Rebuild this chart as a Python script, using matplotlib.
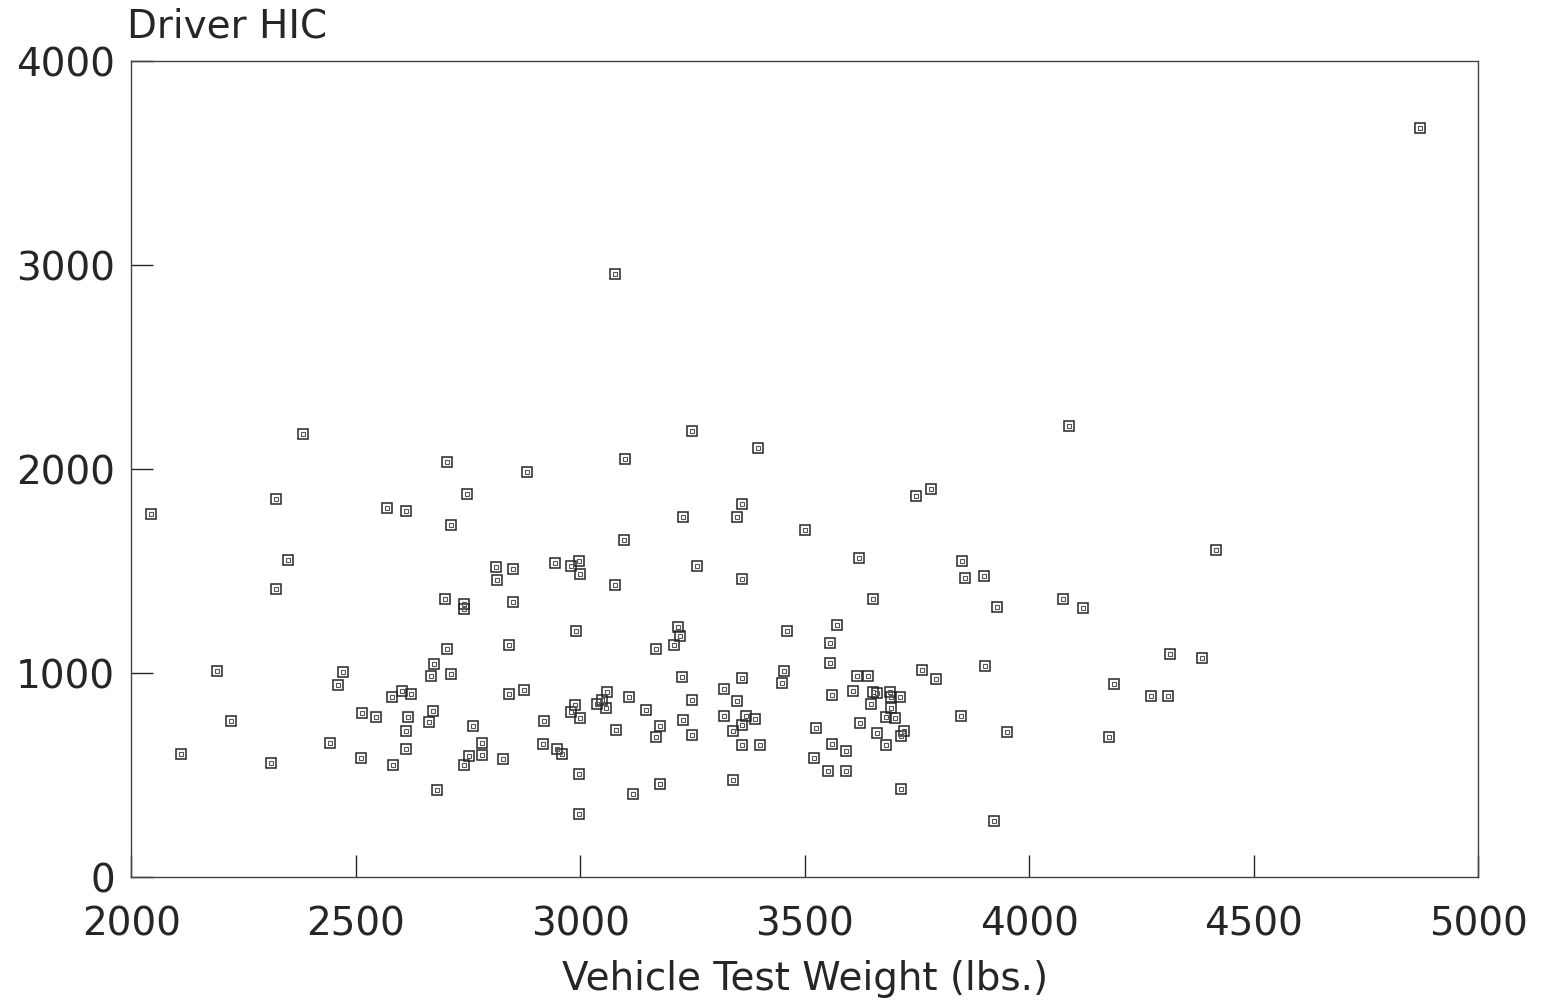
import matplotlib
matplotlib.use("Agg")
import matplotlib.pyplot as plt

# vehicle test weight (lbs.) and driver HIC
weight = [
    2382, 2704, 2748, 2321, 2043, 2570, 2611, 2713, 2349, 2321,
    2699, 2741, 2741, 2702, 2191, 2472, 2461, 2221, 2110, 2311,
    2674, 2667, 2712, 2841, 2842, 2581, 2602, 2622, 2671, 2663,
    2513, 2545, 2617, 2612, 2760, 2442, 2611, 2780, 2780, 2751,
    2740, 2828, 2512, 2582, 2681, 2812, 2814,
    3077, 3248, 3395, 3099, 2881, 3360, 3228, 3348, 3500, 3098,
    3620, 2943, 2979, 2996, 2850, 2999, 3259, 3078, 3360, 2851,
    3652, 3572, 2990, 3217, 3222, 3208, 3168, 3460, 3556, 3556,
    3226, 3361, 3453, 3449, 3617, 3642, 2874, 3059, 3048, 3037,
    3058, 3108, 2989, 2979, 2999, 3147, 3249, 3319, 3349, 3561,
    3608, 3652, 3660, 3691, 3693, 3712, 3647, 3693, 3682, 3702,
    3623, 3662, 3715, 3722, 3682, 2919, 3079, 3178, 3228, 3320,
    3369, 3389, 3360, 3340, 3168, 3249, 3525, 2917, 2948, 2960,
    3360, 3400, 3561, 3592, 3520, 3551, 3593, 3715, 2997, 3178,
    3118, 3341, 2997,
    4089, 3782, 3747, 4416, 3851, 3857, 3899, 4075, 3928, 4119,
    4314, 4386, 3902, 3761, 3792, 4190, 4271, 4309, 3847, 3951,
    4177, 3922, 4871,
]
hic = [
    2171, 2034, 1879, 1854, 1782, 1809, 1797, 1725, 1554, 1413,
    1363, 1338, 1315, 1117, 1012, 1005, 942, 768, 606, 562,
    1047, 987, 998, 1139, 897, 886, 914, 897, 817, 763,
    804, 786, 786, 719, 744, 657, 631, 659, 600, 594,
    551, 579, 587, 551, 430, 1521, 1457,
    2957, 2189, 2104, 2049, 1988, 1830, 1768, 1766, 1702, 1653,
    1567, 1539, 1528, 1549, 1511, 1487, 1526, 1433, 1464, 1351,
    1363, 1237, 1208, 1227, 1183, 1139, 1118, 1208, 1149, 1052,
    984, 977, 1010, 953, 986, 986, 920, 909, 870, 849,
    830, 883, 847, 809, 783, 821, 870, 922, 865, 896,
    914, 909, 902, 909, 883, 884, 851, 829, 786, 783,
    758, 709, 695, 718, 649, 767, 721, 742, 772, 791,
    791, 775, 746, 719, 688, 698, 734, 653, 628, 605,
    651, 651, 653, 621, 587, 523, 523, 435, 509, 460,
    408, 479, 311,
    2212, 1903, 1870, 1603, 1551, 1466, 1479, 1364, 1324, 1322,
    1096, 1077, 1038, 1017, 972, 949, 891, 891, 791, 714,
    688, 278, 3673,
]

x_ticks = [2000, 2500, 3000, 3500, 4000, 4500, 5000]
y_ticks = [0, 1000, 2000, 3000, 4000]

ink = "#262626"
fsize = 28
plt.rcParams["font.family"] = ["DejaVu Sans"]

fig = plt.figure(figsize=(15.43, 10.07), dpi=100)
ax = fig.add_axes([0.0852, 0.1286, 0.8727, 0.8108])

# outer square plus a small inner square, like the original plotter symbol
ax.plot(weight, hic, linestyle="none", marker="s", markersize=7.0,
        markerfacecolor="none", markeredgecolor=ink, markeredgewidth=1.1)
ax.plot(weight, hic, linestyle="none", marker="s", markersize=2.4,
        markerfacecolor="none", markeredgecolor="#555555", markeredgewidth=0.8)

ax.set_xlim(2000, 5000)
ax.set_ylim(0, 4000)
ax.set_xticks(x_ticks)
ax.set_yticks(y_ticks)
ax.tick_params(axis="both", direction="in", length=16, width=1.0,
               color=ink, labelcolor=ink, labelsize=fsize)
ax.tick_params(axis="x", pad=20)
ax.tick_params(axis="y", pad=12)
for s in ax.spines.values():
    s.set_linewidth(1.0)
    s.set_color("#444444")

ax.set_xlabel("Vehicle Test Weight (lbs.)", fontsize=fsize, color=ink, labelpad=12)
fig.text(127 / 1543, 1 - 26 / 1007, "Driver HIC", fontsize=fsize, color=ink,
         ha="left", va="center")

fig.savefig("out.png", dpi=100)
